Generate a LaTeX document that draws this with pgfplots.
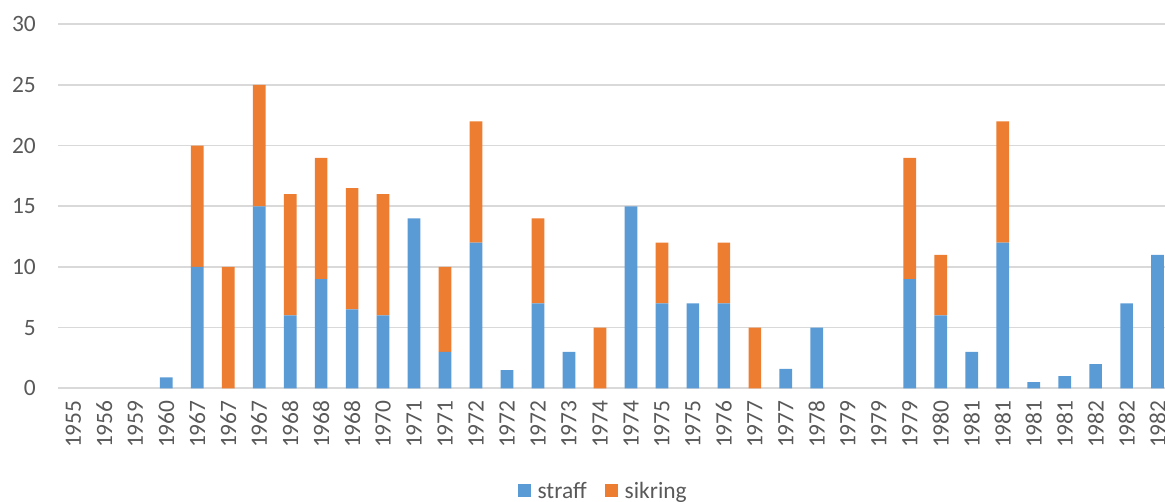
\documentclass[border=0pt]{standalone}
\usepackage{pgfplots}
\pgfplotsset{compat=1.18}
\usepackage{pgfplotstable}
\usepackage{fontspec}
\setmainfont{Carlito}

\definecolor{straffblue}{HTML}{5B9BD5}
\definecolor{sikringorange}{HTML}{ED7D31}
\definecolor{gridgray}{HTML}{D9D9D9}
\definecolor{textgray}{HTML}{595959}

% idx: category position, straff / sikring counts
\pgfplotstableread{
idx straff sikring
0 0 0
1 0 0
2 0 0
3 0.9 0
4 10 10
5 0 10
6 15 10
7 6 10
8 9 10
9 6.5 10
10 6 10
11 14 0
12 3 7
13 12 10
14 1.5 0
15 7 7
16 3 0
17 0 5
18 15 0
19 7 5
20 7 0
21 7 5
22 0 5
23 1.6 0
24 5 0
25 0 0
26 0 0
27 9 10
28 6 5
29 3 0
30 12 10
31 0.5 0
32 1 0
33 2 0
34 7 0
35 11 0
}\datatable

\begin{document}
\begin{tikzpicture}
  \begin{axis}[
      at={(57.8bp,113.7bp)}, anchor=south west,
      scale only axis,
      width=1115.3bp, height=364bp,
      ybar stacked, bar width=12.7bp,
      xmin=-0.5, xmax=35.5,
      ymin=0, ymax=30,
      ytick={0,5,...,30},
      xtick={0,...,35},
      xticklabels={1955,1956,1959,1960,1967,1967,1967,1968,1968,1968,1970,1971,1971,1972,1972,1972,1973,1974,1974,1975,1975,1976,1977,1977,1978,1979,1979,1979,1980,1981,1981,1981,1981,1982,1982,1982},
      major tick length=0pt,
      ymajorgrids,
      grid style={draw=gridgray, line width=1.7bp},
      axis x line*=bottom, axis y line*=left,
      x axis line style={draw=gridgray, line width=1.7bp, -},
      y axis line style={draw=none},
      /pgf/number format/assume math mode=true,
      tick label style={font=\fontsize{23.5}{28}\selectfont, text=textgray},
      yticklabel style={anchor=east, inner sep=0pt},
      yticklabel shift=21.8bp,
      xticklabel style={rotate=90, anchor=east, inner sep=0pt},
      xticklabel shift=12bp,
      legend style={at={(0.489,-0.282)}, anchor=center, draw=none, fill=none,
        legend columns=-1, font=\fontsize{23.5}{28}\selectfont, text=textgray,
        /tikz/every odd column/.append style={column sep=5bp},
        /tikz/every even column/.append style={column sep=16bp}},
      legend image code/.code={\fill[#1,draw=none] (0bp,-6.5bp) rectangle (13bp,6.5bp);},
    ]
    \addplot[fill=straffblue, draw=none] table[x=idx, y=straff] {\datatable};
    \addplot[fill=sikringorange, draw=none] table[x=idx, y=sikring] {\datatable};
    \legend{straff, sikring}
  \end{axis}
  \pgfresetboundingbox
  \useasboundingbox (0,0) rectangle (1165bp,502bp);
\end{tikzpicture}
\end{document}
